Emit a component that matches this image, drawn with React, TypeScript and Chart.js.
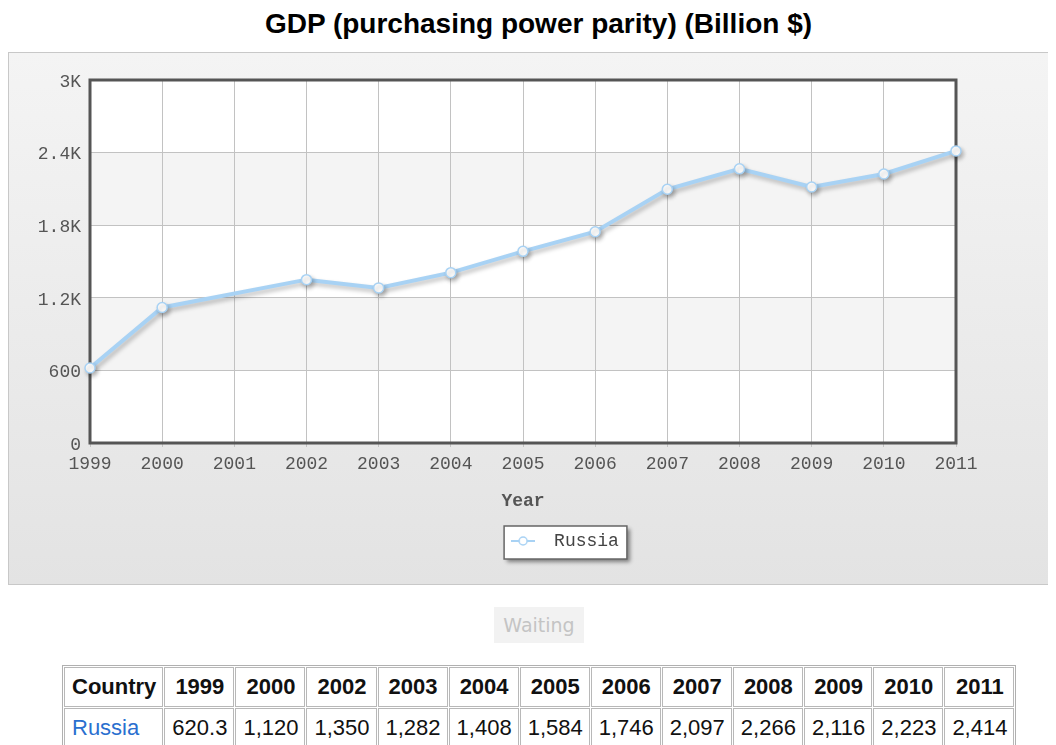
import React, { useEffect, useRef } from "react";
import { Chart, registerables } from "chart.js";

Chart.register(...registerables);

const chartTitle = "GDP (purchasing power parity) (Billion $)";
const xAxisTitle = "Year";
const seriesName = "Russia";
const years = ["1999", "2000", "2001", "2002", "2003", "2004", "2005", "2006", "2007", "2008", "2009", "2010", "2011"];
const russiaGdp: (number | null)[] = [620.3, 1120, null, 1350, 1282, 1408, 1584, 1746, 2097, 2266, 2116, 2223, 2414];
const yTicks = [0, 600, 1200, 1800, 2400, 3000];
const tableHeader = ["Country", "1999", "2000", "2002", "2003", "2004", "2005", "2006", "2007", "2008", "2009", "2010", "2011"];
const tableRow = ["620.3", "1,120", "1,350", "1,282", "1,408", "1,584", "1,746", "2,097", "2,266", "2,116", "2,223", "2,414"];

const LINE_COLOR = "#a8d2f4";
const MONO = "'Liberation Mono', 'DejaVu Sans Mono', monospace";
const LEGEND_CENTER_X = 551;

function makeMarker(): HTMLCanvasElement {
  const c = document.createElement("canvas");
  c.width = 24;
  c.height = 12;
  const g = c.getContext("2d")!;
  g.strokeStyle = LINE_COLOR;
  g.lineWidth = 2;
  g.beginPath();
  g.moveTo(0, 6);
  g.lineTo(24, 6);
  g.stroke();
  g.beginPath();
  g.arc(12, 6, 4, 0, Math.PI * 2);
  g.fillStyle = "#fff";
  g.fill();
  g.lineWidth = 1.5;
  g.stroke();
  return c;
}

const decorPlugin = {
  id: "decor",
  afterLayout(chart: any) {
    const lg = chart.legend;
    if (lg) {
      const shift = LEGEND_CENTER_X - (lg.left + lg.right) / 2;
      lg.left += shift;
      lg.right += shift;
    }
  },
  beforeDraw(chart: any) {
    const { ctx, chartArea: a, scales } = chart;
    const y = scales.y;
    ctx.save();
    ctx.fillStyle = "#ffffff";
    ctx.fillRect(a.left, a.top, a.right - a.left, a.bottom - a.top);
    for (let i = 0; i < yTicks.length - 1; i++) {
      if (i % 2 === 1) {
        const y1 = y.getPixelForValue(yTicks[i]);
        const y2 = y.getPixelForValue(yTicks[i + 1]);
        ctx.fillStyle = "#f4f4f4";
        ctx.fillRect(a.left, y2, a.right - a.left, y1 - y2);
      }
    }
    const lg = chart.legend;
    const hb = lg && lg.legendHitBoxes && lg.legendHitBoxes[0];
    if (hb) {
      const cy = hb.top + hb.height / 2;
      const left = hb.left + 3;
      const right = hb.left + hb.width + 8;
      const top = cy - 15;
      const bottom = cy + 18;
      ctx.shadowColor = "rgba(0,0,0,0.45)";
      ctx.shadowBlur = 4;
      ctx.shadowOffsetX = 3;
      ctx.shadowOffsetY = 3;
      ctx.fillStyle = "#ffffff";
      ctx.fillRect(left, top, right - left, bottom - top);
      ctx.shadowColor = "transparent";
      ctx.strokeStyle = "#666";
      ctx.lineWidth = 1.5;
      ctx.strokeRect(left, top, right - left, bottom - top);
    }
    ctx.restore();
  },
  beforeDatasetsDraw(chart: any) {
    const { ctx, chartArea: a } = chart;
    ctx.save();
    ctx.strokeStyle = "#555";
    ctx.lineWidth = 3;
    ctx.strokeRect(a.left, a.top, a.right - a.left, a.bottom - a.top);
    ctx.restore();
    ctx.save();
    ctx.shadowColor = "rgba(0,0,0,0.25)";
    ctx.shadowBlur = 4;
    ctx.shadowOffsetX = 2;
    ctx.shadowOffsetY = 3;
  },
  afterDatasetsDraw(chart: any) {
    chart.ctx.restore();
  },
};

function GdpChart() {
  const ref = useRef<HTMLCanvasElement | null>(null);
  useEffect(() => {
    if (!ref.current) return;
    const marker = makeMarker();
    const chart = new Chart(ref.current, {
      type: "line",
      data: {
        labels: years,
        datasets: [
          {
            label: seriesName,
            data: russiaGdp,
            borderColor: LINE_COLOR,
            backgroundColor: LINE_COLOR,
            borderWidth: 4,
            tension: 0,
            spanGaps: true,
            pointRadius: 5,
            pointBackgroundColor: "#ffffff",
            pointBorderColor: LINE_COLOR,
            pointBorderWidth: 1.5,
            clip: false as any,
          },
        ],
      },
      options: {
        responsive: false,
        animation: false,
        layout: { padding: { left: 0, right: 0, top: 27, bottom: 24 } },
        plugins: {
          title: { display: false },
          tooltip: { enabled: false },
          legend: {
            position: "bottom",
            labels: {
              usePointStyle: true,
              pointStyle: marker as any,
              pointStyleWidth: 44,
              padding: 10,
              color: "#444",
              font: { family: MONO, size: 18 },
            },
          },
        },
        scales: {
          x: {
            type: "category",
            offset: false,
            grid: { color: "#c2c2c2", lineWidth: 1, tickLength: 4, drawTicks: true },
            border: { display: false },
            ticks: { color: "#555", font: { family: MONO, size: 18 }, padding: 6, maxRotation: 0, autoSkip: false },
            title: {
              display: true,
              text: xAxisTitle,
              color: "#555",
              font: { family: MONO, size: 18, weight: "bold" },
              padding: { top: 0, bottom: 10 },
            },
            afterFit(s: any) {
              s.height = 79;
            },
          },
          y: {
            min: 0,
            max: 3000,
            grid: { color: "#c2c2c2", lineWidth: 1, drawTicks: false },
            border: { display: false },
            ticks: {
              stepSize: 600,
              padding: 9,
              labelOffset: 2,
              color: "#555",
              font: { family: MONO, size: 18 },
              callback: (v: any) => (Number(v) >= 1000 ? `${Number(v) / 1000}K` : `${v}`),
            },
            afterFit(s: any) {
              s.width = 81;
            },
          },
          yR: {
            type: "linear",
            position: "right",
            display: true,
            grid: { display: false },
            border: { display: false },
            ticks: { display: false },
            afterFit(s: any) {
              s.width = 100;
            },
          },
        },
      },
      plugins: [decorPlugin],
    });
    return () => chart.destroy();
  }, []);
  return <canvas ref={ref} width={1047} height={531} style={{ display: "block", position: "absolute", left: 0, top: 0 }} />;
}

export default function App() {
  useEffect(() => {
    document.body.style.overflow = "hidden";
    document.documentElement.style.overflow = "hidden";
  }, []);
  const cell: React.CSSProperties = {
    border: "1px solid #b8b8b8",
    padding: "0 6px 0 7px",
    height: 38,
    whiteSpace: "nowrap",
  };
  return (
    <div style={{ position: "relative", width: 1048, height: 737 }}>
      <div
        style={{
          position: "absolute",
          left: 0,
          top: 0,
          width: 1061,
          textAlign: "center",
          font: "bold 28px 'Liberation Sans', Arial, sans-serif",
          lineHeight: "32px",
          color: "#000",
        }}
      >
        {chartTitle}
      </div>
      <div
        style={{
          position: "absolute",
          left: 0,
          top: 44,
          width: 1048,
          height: 533,
          boxSizing: "border-box",
          border: "1px solid #c8c8c8",
          borderRight: "none",
          background: "linear-gradient(#f4f4f4, #e3e3e3)",
        }}
      >
        <GdpChart />
      </div>
      <div
        style={{
          position: "absolute",
          left: 486,
          top: 599,
          width: 90,
          height: 36,
          background: "#f2f2f2",
          color: "#c4c4c4",
          font: "19px 'DejaVu Sans', sans-serif",
          lineHeight: "36px",
          textAlign: "center",
        }}
      >
        Waiting
      </div>
      <table
        style={{
          position: "absolute",
          left: 54,
          top: 657,
          borderCollapse: "separate",
          borderSpacing: 1,
          border: "1px solid #b0b0b0",
          font: "22px 'Liberation Sans', Arial, sans-serif",
          color: "#111",
        }}
      >
        <thead>
          <tr>
            {tableHeader.map((h) => (
              <th key={h} style={{ ...cell, fontWeight: "bold" }}>
                {h}
              </th>
            ))}
          </tr>
        </thead>
        <tbody>
          <tr>
            <td style={{ ...cell, color: "#2a6fcf" }}>{seriesName}</td>
            {tableRow.map((v, i) => (
              <td key={i} style={cell}>
                {v}
              </td>
            ))}
          </tr>
        </tbody>
      </table>
    </div>
  );
}
